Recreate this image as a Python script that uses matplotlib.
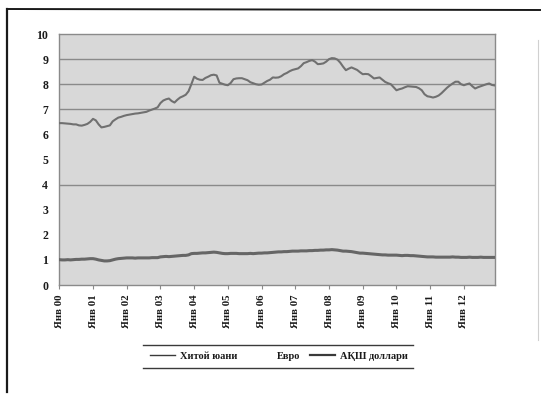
import matplotlib
matplotlib.use("Agg")
import matplotlib.pyplot as plt
from matplotlib.lines import Line2D

plt.rcParams['font.family'] = ['Liberation Serif', 'DejaVu Serif']
plt.rcParams['font.weight'] = 'bold'

# Monthly series, January 2000 - December 2012
yuan = [
    6.45, 6.45, 6.44, 6.43, 6.42, 6.40, 6.40, 6.36, 6.35, 6.38, 6.42, 6.50,
    6.62, 6.56, 6.40, 6.28, 6.30, 6.33, 6.36, 6.52, 6.60, 6.67, 6.70, 6.74,
    6.77, 6.79, 6.81, 6.83, 6.84, 6.86, 6.88, 6.90, 6.95, 6.99, 7.03, 7.08,
    7.25, 7.35, 7.40, 7.43, 7.33, 7.27, 7.38, 7.47, 7.52, 7.58, 7.72, 8.00,
    8.30, 8.22, 8.18, 8.17, 8.25, 8.30, 8.36, 8.38, 8.35, 8.06, 8.02, 7.98,
    7.96, 8.05, 8.20, 8.23, 8.24, 8.24, 8.20, 8.16, 8.08, 8.04, 8.00, 7.98,
    7.99, 8.06, 8.13, 8.18, 8.27, 8.26, 8.27, 8.32, 8.40, 8.45, 8.52, 8.57,
    8.60, 8.63, 8.72, 8.84, 8.88, 8.93, 8.96, 8.90, 8.80, 8.81, 8.83, 8.90,
    9.00, 9.04, 9.03, 8.98, 8.86, 8.70, 8.56, 8.62, 8.67, 8.62, 8.57, 8.48,
    8.40, 8.41, 8.40, 8.32, 8.23, 8.25, 8.27, 8.18, 8.09, 8.04, 8.00, 7.88,
    7.76, 7.80, 7.83, 7.88, 7.92, 7.91, 7.90, 7.89, 7.84, 7.76, 7.60, 7.52,
    7.50, 7.47, 7.50, 7.55, 7.64, 7.75, 7.86, 7.95, 8.03, 8.10, 8.10, 8.00,
    7.96, 8.00, 8.03, 7.92, 7.83, 7.88, 7.92, 7.96, 8.00, 8.03, 7.97, 7.95,
]

usd = [
    1.01, 1.00, 1.00, 1.01, 1.00, 1.01, 1.02, 1.02, 1.03, 1.03, 1.04, 1.05,
    1.05, 1.03, 1.00, 0.98, 0.96, 0.96, 0.97, 1.00, 1.03, 1.05, 1.06, 1.07,
    1.08, 1.08, 1.08, 1.07, 1.08, 1.08, 1.08, 1.08, 1.08, 1.09, 1.09, 1.09,
    1.12, 1.13, 1.14, 1.13, 1.14, 1.15, 1.16, 1.17, 1.18, 1.18, 1.20, 1.25,
    1.26, 1.26, 1.27, 1.28, 1.28, 1.29, 1.30, 1.31, 1.30, 1.28, 1.26, 1.25,
    1.25, 1.26, 1.26, 1.26, 1.25, 1.25, 1.25, 1.25, 1.26, 1.25, 1.26, 1.27,
    1.27, 1.28, 1.28, 1.29, 1.30, 1.31, 1.32, 1.32, 1.33, 1.33, 1.34, 1.35,
    1.35, 1.35, 1.36, 1.36, 1.36, 1.37, 1.37, 1.38, 1.38, 1.39, 1.39, 1.40,
    1.40, 1.41, 1.40, 1.39, 1.37, 1.35, 1.35, 1.34, 1.33, 1.31, 1.29, 1.27,
    1.27, 1.26, 1.25, 1.24, 1.23, 1.22, 1.21, 1.20, 1.20, 1.19, 1.19, 1.19,
    1.19, 1.18, 1.17, 1.18, 1.18, 1.17, 1.17, 1.16, 1.15, 1.14, 1.13, 1.12,
    1.12, 1.12, 1.11, 1.11, 1.11, 1.11, 1.11, 1.11, 1.12, 1.11, 1.11, 1.10,
    1.10, 1.10, 1.11, 1.10, 1.10, 1.10, 1.11, 1.10, 1.10, 1.10, 1.10, 1.10,
]

year_labels = ["Янв 00", "Янв 01", "Янв 02", "Янв 03", "Янв 04", "Янв 05",
               "Янв 06", "Янв 07", "Янв 08", "Янв 09", "Янв 10", "Янв 11",
               "Янв 12"]
series_names = ["Хитой юани", "Евро", "АҚШ доллари"]
y_ticks = [0, 1, 2, 3, 4, 5, 6, 7, 8, 9, 10]
grid_levels = [4, 7, 8, 9]

months = list(range(len(yuan)))

fig = plt.figure(figsize=(5.41, 3.99), dpi=100)
ax = fig.add_axes([0.1096, 0.2857, 0.805, 0.629])
ax.set_facecolor('#d8d8d8')

for lvl in grid_levels:
    ax.axhline(lvl, color='#8a8a8a', lw=1.0, zorder=1)

ax.plot(months, yuan, color='#707070', lw=1.5, zorder=3, solid_capstyle='round')
ax.plot(months, usd, color='#666666', lw=2.2, zorder=3)

ax.set_xlim(0, len(yuan) - 1)
ax.set_ylim(0, 10)
ax.set_yticks(y_ticks)
ax.set_yticklabels([str(v) for v in y_ticks], fontsize=8.5, fontweight='bold', color='#1a1a1a')
ax.set_xticks(list(range(0, 12 * len(year_labels), 12)))
ax.set_xticklabels(year_labels, rotation=90, fontsize=7.8, fontweight='bold', color='#1a1a1a')
ax.tick_params(axis='y', length=0, pad=8)
ax.tick_params(axis='x', length=3, width=0.8, color='#8a8a8a', pad=4)

for side in ['left', 'right', 'top', 'bottom']:
    ax.spines[side].set_color('#8a8a8a')
    ax.spines[side].set_linewidth(1.0)

# Legend: the middle entry has no visible line
handles = [
    Line2D([], [], color='#3a3a3a', lw=1.0),
    Line2D([], [], color='none', lw=1.0),
    Line2D([], [], color='#3a3a3a', lw=1.6),
]
leg = fig.legend(handles, series_names, loc='center', ncol=3,
                 bbox_to_anchor=(0.516, 0.108), frameon=False,
                 prop={'size': 7.5, 'weight': 'bold'},
                 handlelength=2.4, handletextpad=0.5, columnspacing=0.9)
for t in leg.get_texts():
    t.set_color('#1a1a1a')

# Top and bottom rules of the legend box
for yy in (1 - 345 / 399, 1 - 368 / 399):
    fig.add_artist(Line2D([143 / 541, 413 / 541], [yy, yy],
                          transform=fig.transFigure, color='#3a3a3a', lw=1.0))

# Outer frame of the chart
fig.add_artist(Line2D([7 / 541, 7 / 541], [1 - 9 / 399, 1 - 392 / 399],
                      transform=fig.transFigure, color='#1a1a1a', lw=1.6))
fig.add_artist(Line2D([7 / 541, 540 / 541], [1 - 9 / 399, 1 - 10 / 399],
                      transform=fig.transFigure, color='#1a1a1a', lw=1.4))
fig.add_artist(Line2D([538 / 541, 538 / 541], [1 - 40 / 399, 1 - 340 / 399],
                      transform=fig.transFigure, color='#d0d0d0', lw=0.8))

fig.savefig('out.png', dpi=100)
